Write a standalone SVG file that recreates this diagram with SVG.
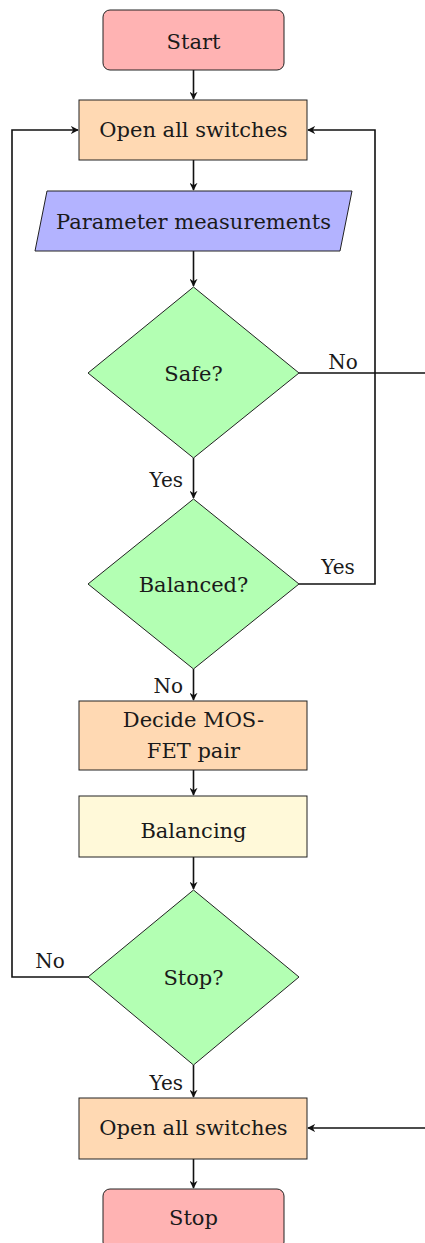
<svg xmlns="http://www.w3.org/2000/svg" width="425" height="1243" viewBox="0 0 425 1243">
<style>
text{font-family:'DejaVu Serif',serif;font-size:21px;fill:#1a1a1a;text-anchor:middle}
.lbl{font-size:20px}
.term{fill:#ffb3b3;stroke:#222;stroke-width:1}
.proc{fill:#ffd9b3;stroke:#222;stroke-width:1}
.io{fill:#b3b3ff;stroke:#222;stroke-width:1}
.dec{fill:#b3ffb3;stroke:#222;stroke-width:1}
.bal{fill:#fff9d9;stroke:#222;stroke-width:1}
.edge{fill:none;stroke:#111;stroke-width:1.6}
</style>
<defs>
<marker id="arr" viewBox="0 0 10 10" refX="9" refY="5" markerWidth="8" markerHeight="8" markerUnits="userSpaceOnUse" orient="auto">
<path d="M0,0 L10,5 L0,10 L3,5 Z" fill="#111"/>
</marker>
</defs>
<g id="connectors">
<path class="edge" d="M193.5,70 V99" marker-end="url(#arr)"/>
<path class="edge" d="M193.5,160 V190" marker-end="url(#arr)"/>
<path class="edge" d="M193.5,251 V286" marker-end="url(#arr)"/>
<path class="edge" d="M193.5,458 V498" marker-end="url(#arr)"/>
<path class="edge" d="M193.5,669 V700" marker-end="url(#arr)"/>
<path class="edge" d="M193.5,770 V795" marker-end="url(#arr)"/>
<path class="edge" d="M193.5,857 V889" marker-end="url(#arr)"/>
<path class="edge" d="M193.5,1065 V1097" marker-end="url(#arr)"/>
<path class="edge" d="M193.5,1159 V1188" marker-end="url(#arr)"/>
<path class="edge" d="M299,373 H425"/>
<path class="edge" d="M299,584 H375 V130 H308" marker-end="url(#arr)"/>
<path class="edge" d="M88,977 H12 V130 H78" marker-end="url(#arr)"/>
<path class="edge" d="M425,1128 H308" marker-end="url(#arr)"/>
<text class="lbl" x="343" y="369">No</text>
<text class="lbl" x="183" y="487" style="text-anchor:end">Yes</text>
<text class="lbl" x="338" y="574">Yes</text>
<text class="lbl" x="183" y="693" style="text-anchor:end">No</text>
<text class="lbl" x="50" y="968">No</text>
<text class="lbl" x="183" y="1090" style="text-anchor:end">Yes</text>
</g>
<g id="start">
<rect class="term" x="103" y="10" width="181" height="60" rx="7"/>
<text x="193.5" y="49">Start</text>
</g>
<g id="open1">
<rect class="proc" x="79" y="100" width="228" height="60"/>
<text x="193.5" y="137">Open all switches</text>
</g>
<g id="measure">
<polygon class="io" points="47,191 352,191 340,251 35,251"/>
<text x="193.5" y="229">Parameter measurements</text>
</g>
<g id="safe">
<polygon class="dec" points="193.5,287 299,373 193.5,458 88,373"/>
<text x="193.5" y="381">Safe?</text>
</g>
<g id="balanced">
<polygon class="dec" points="193.5,499 299,584 193.5,669 88,584"/>
<text x="193.5" y="592">Balanced?</text>
</g>
<g id="decide">
<rect class="proc" x="79" y="701" width="228" height="69"/>
<text x="193.5" y="727">Decide MOS-</text>
<text x="193.5" y="758">FET pair</text>
</g>
<g id="balancing">
<rect class="bal" x="79" y="796" width="228" height="61"/>
<text x="193.5" y="838">Balancing</text>
</g>
<g id="stopq">
<polygon class="dec" points="193.5,890 299,977 193.5,1065 88,977"/>
<text x="193.5" y="985">Stop?</text>
</g>
<g id="open2">
<rect class="proc" x="79" y="1098" width="228" height="61"/>
<text x="193.5" y="1135">Open all switches</text>
</g>
<g id="stop">
<rect class="term" x="103" y="1189" width="181" height="60" rx="7"/>
<text x="193.5" y="1225">Stop</text>
</g>
</svg>
